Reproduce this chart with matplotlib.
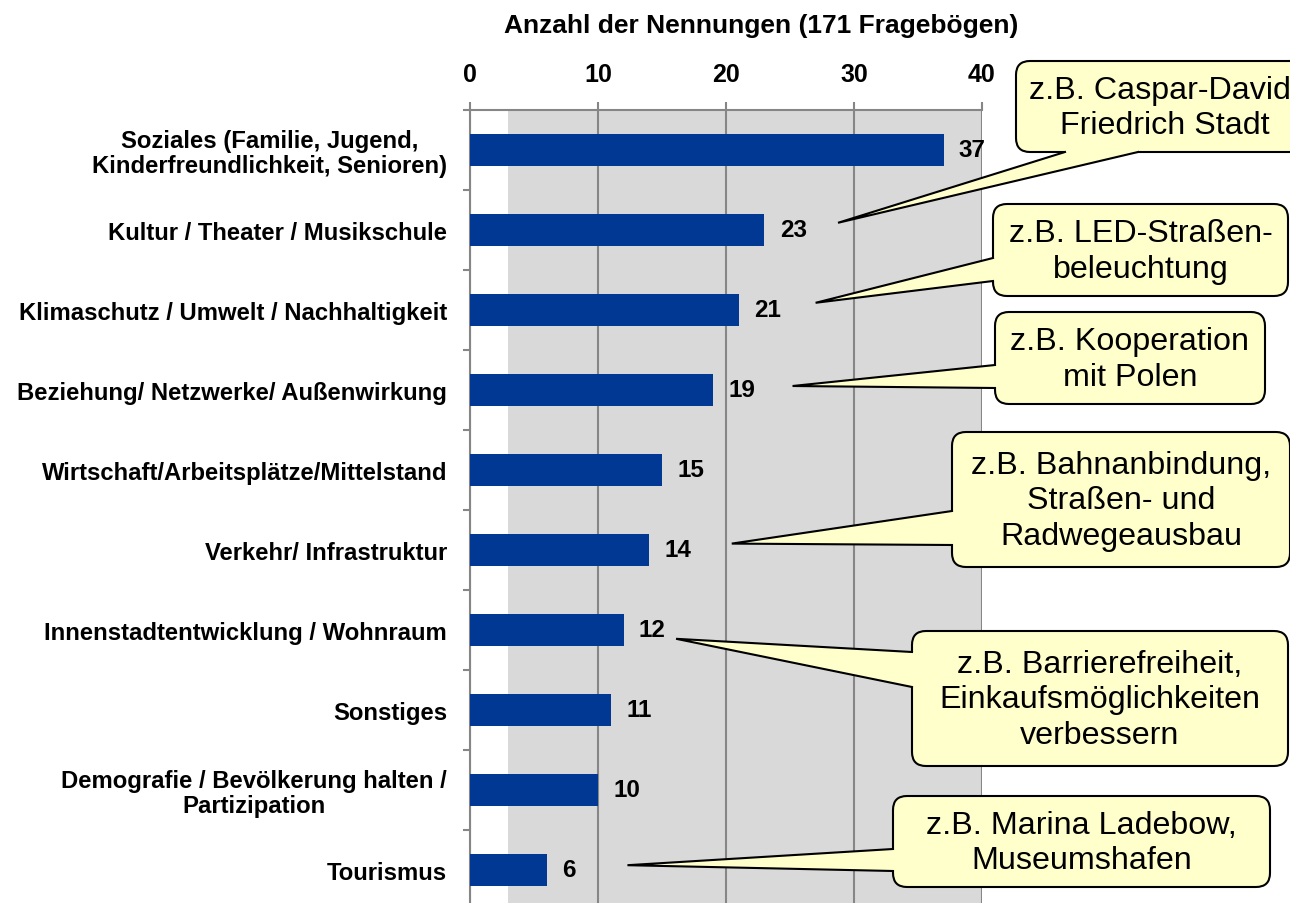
import matplotlib
matplotlib.use("Agg")
import numpy as np
import matplotlib.pyplot as plt
from matplotlib.patches import FancyBboxPatch, Polygon
from matplotlib.lines import Line2D

plt.rcParams['font.family'] = ['Liberation Sans', 'DejaVu Sans']

# ---------------- data ----------------
categories = [
    "Soziales (Familie, Jugend,\nKinderfreundlichkeit, Senioren)",
    "Kultur / Theater / Musikschule",
    "Klimaschutz / Umwelt / Nachhaltigkeit",
    "Beziehung/ Netzwerke/ Außenwirkung",
    "Wirtschaft/Arbeitsplätze/Mittelstand",
    "Verkehr/ Infrastruktur",
    "Innenstadtentwicklung / Wohnraum",
    "Sonstiges",
    "Demografie / Bevölkerung halten /\nPartizipation",
    "Tourismus",
]
values = [37, 23, 21, 19, 15, 14, 12, 11, 10, 6]
xticks = [0, 10, 20, 30, 40]
xtick_labels = ["0", "10", "20", "30", "40"]
title = "Anzahl der Nennungen (171 Fragebögen)"

callout_texts = [
    "z.B. Caspar-David-\nFriedrich Stadt",
    "z.B. LED-Straßen-\nbeleuchtung",
    "z.B. Kooperation\nmit Polen",
    "z.B. Bahnanbindung,\nStraßen- und\nRadwegeausbau",
    "z.B. Barrierefreiheit,\nEinkaufsmöglichkeiten\nverbessern",
    "z.B. Marina Ladebow,\nMuseumshafen",
]
callout_targets = [1, 2, 3, 5, 6, 9]   # category index each callout points to

# ---------------- layout / style ----------------
W, H = 1290, 904
BAR = '#003893'
GRAY_BG = '#D9D9D9'
GRID = '#868686'
YELLOW = '#FFFFCC'

fig = plt.figure(figsize=(W / 100, H / 100), dpi=100)
ax = fig.add_axes([470 / W, (H - 911) / H, 512 / W, 800 / H])

ypos = np.arange(len(categories))
ax.set_xlim(0, 40)
ax.set_ylim(len(categories) - 0.5, -0.5)
ax.axvspan(3, 40, color=GRAY_BG, zorder=0, lw=0)
ax.barh(ypos, values, height=0.4, color=BAR, zorder=3)
ax.set_axisbelow(True)
ax.xaxis.grid(True, color=GRID, lw=1.5)

ax.xaxis.tick_top()
ax.set_xticks(xticks, labels=xtick_labels, fontsize=18, fontweight='bold')
ax.tick_params(axis='x', direction='out', length=6, width=1.5, color=GRID, pad=11)

ax.set_yticks(ypos, labels=categories, fontsize=17.2, fontweight='bold')
for t in ax.get_yticklabels():
    t.set_multialignment('center')
    t.set_linespacing(1.1)
ax.tick_params(axis='y', which='major', length=0, pad=16.5)
ax.set_yticks(np.arange(-0.5, len(categories), 1), minor=True)
ax.tick_params(axis='y', which='minor', direction='out', length=5, width=1.5, color=GRID)

for s in ['right', 'bottom']:
    ax.spines[s].set_visible(False)
for s in ['top', 'left']:
    ax.spines[s].set_color(GRID)
    ax.spines[s].set_linewidth(1.5)

for y, v in zip(ypos, values):
    ax.annotate(str(v), (v, y), xytext=(11, 0), textcoords='offset points',
                ha='left', va='center', fontsize=17.5, fontweight='bold', zorder=4)

fig.text(761 / W, 1 - 26 / H, title, ha='center', va='center',
         fontsize=19, fontweight='bold')

# ---------------- callouts (pixel overlay) ----------------
ov = fig.add_axes([0, 0, 1, 1], zorder=10)
ov.set_xlim(0, W)
ov.set_ylim(H, 0)
ov.axis('off')

# box (x0, y0, x1, y1), attach side, attach coords, tip offset (dx data, dy data)
callout_boxes = [
    ((1016, 62, 1314, 153), 'bottom', (1065, 1138), (5.75, -0.09)),
    ((993, 205, 1288, 297), 'left', (259, 282), (6.0, -0.09)),
    ((995, 313, 1265, 405), 'left', (366, 389), (6.2, -0.05)),
    ((952, 433, 1290, 568), 'left', (512, 546), (6.45, -0.08)),
    ((912, 632, 1288, 767), 'left', (653, 688), (4.1, 0.11)),
    ((893, 797, 1270, 888), 'left', (850, 872), (6.3, -0.06)),
]

for text, tgt, (box, side, att, (dx, dy)) in zip(callout_texts, callout_targets, callout_boxes):
    x0, y0, x1, y1 = box
    disp = ax.transData.transform((values[tgt] + dx, tgt + dy))
    tip = (disp[0], H - disp[1])
    bb = FancyBboxPatch((x0, y0), x1 - x0, y1 - y0,
                        boxstyle="round,pad=0,rounding_size=14",
                        fc=YELLOW, ec='black', lw=1.5, zorder=5)
    ov.add_patch(bb)
    if side == 'left':
        a1, a2 = (x0, att[0]), (x0, att[1])
        a1i, a2i = (x0 + 4, att[0]), (x0 + 4, att[1])
    else:
        a1, a2 = (att[0], y1), (att[1], y1)
        a1i, a2i = (att[0], y1 - 4), (att[1], y1 - 4)
    ov.add_patch(Polygon([a1, a1i, a2i, a2, tip], closed=True, fc=YELLOW,
                         ec='none', zorder=6))
    ov.add_line(Line2D([a1[0], tip[0], a2[0]], [a1[1], tip[1], a2[1]],
                       color='black', lw=1.5, zorder=7, solid_joinstyle='miter'))
    ov.text((x0 + x1) / 2, (y0 + y1) / 2 + 1, text, ha='center', va='center',
            fontsize=23.2, linespacing=1.22, zorder=8)

fig.savefig('out.png', dpi=100)
